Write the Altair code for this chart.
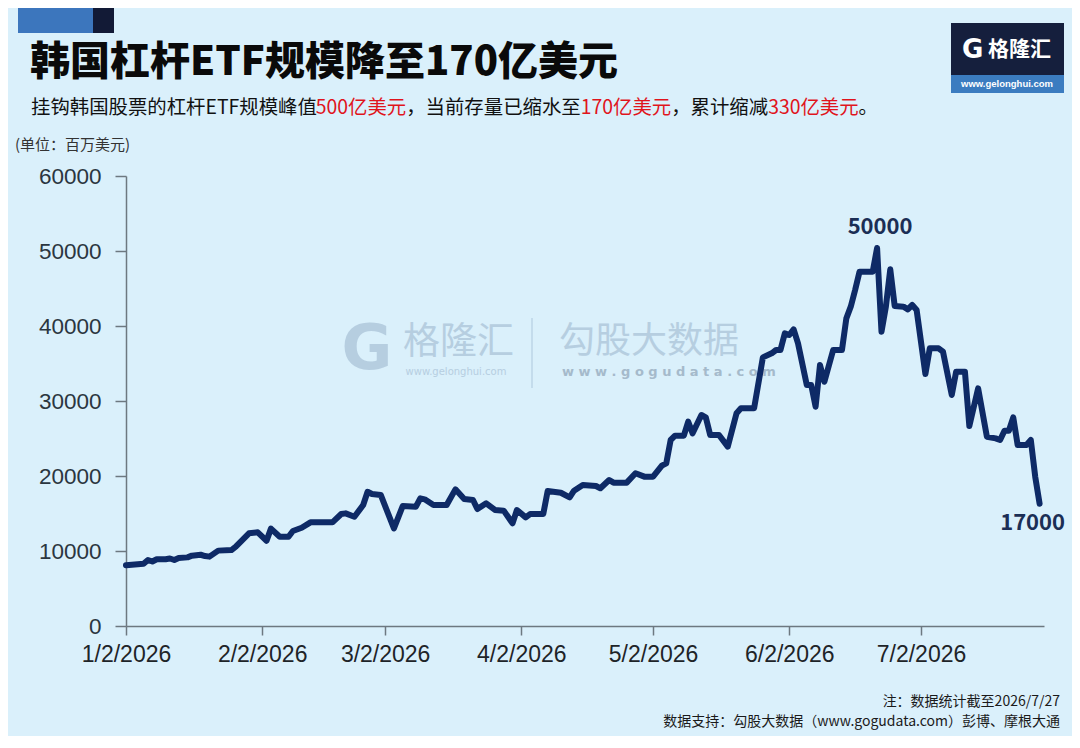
import altair as alt
import pandas as pd

# ---------------- data ----------------
dates = [
    "2026-01-02", "2026-01-06", "2026-01-07", "2026-01-08", "2026-01-09", "2026-01-11",
    "2026-01-12", "2026-01-13", "2026-01-14", "2026-01-16", "2026-01-17", "2026-01-19",
    "2026-01-20", "2026-01-21", "2026-01-23", "2026-01-26", "2026-01-27", "2026-01-30",
    "2026-02-01", "2026-02-03", "2026-02-04", "2026-02-06", "2026-02-08", "2026-02-09",
    "2026-02-11", "2026-02-13", "2026-02-18", "2026-02-20", "2026-02-21", "2026-02-23",
    "2026-02-25", "2026-02-26", "2026-02-27", "2026-03-01", "2026-03-04", "2026-03-06",
    "2026-03-09", "2026-03-10", "2026-03-11", "2026-03-13", "2026-03-16", "2026-03-18",
    "2026-03-20", "2026-03-22", "2026-03-23", "2026-03-25", "2026-03-27", "2026-03-29",
    "2026-03-31", "2026-04-01", "2026-04-03", "2026-04-04", "2026-04-07", "2026-04-08",
    "2026-04-11", "2026-04-13", "2026-04-14", "2026-04-16", "2026-04-19", "2026-04-20",
    "2026-04-22", "2026-04-23", "2026-04-26", "2026-04-28", "2026-04-30", "2026-05-02",
    "2026-05-04", "2026-05-05", "2026-05-06", "2026-05-07", "2026-05-09", "2026-05-10",
    "2026-05-11", "2026-05-13", "2026-05-14", "2026-05-15", "2026-05-17", "2026-05-19",
    "2026-05-21", "2026-05-22", "2026-05-25", "2026-05-27", "2026-05-29", "2026-05-30",
    "2026-05-31", "2026-06-01", "2026-06-02", "2026-06-03", "2026-06-04", "2026-06-06",
    "2026-06-07", "2026-06-08", "2026-06-09", "2026-06-10", "2026-06-12", "2026-06-14",
    "2026-06-15", "2026-06-16", "2026-06-17", "2026-06-18", "2026-06-21", "2026-06-22",
    "2026-06-23", "2026-06-24", "2026-06-25", "2026-06-26", "2026-06-28", "2026-06-29",
    "2026-06-30", "2026-07-01", "2026-07-03", "2026-07-04", "2026-07-06", "2026-07-07",
    "2026-07-09", "2026-07-10", "2026-07-12", "2026-07-13", "2026-07-15", "2026-07-17",
    "2026-07-19", "2026-07-20", "2026-07-21", "2026-07-22", "2026-07-23", "2026-07-24",
    "2026-07-26", "2026-07-27", "2026-07-28", "2026-07-29",
]
values = [
    8100, 8300, 8800, 8600, 8900, 8900,
    9000, 8800, 9070, 9150, 9380, 9500,
    9330, 9250, 10050, 10130, 10570, 12360,
    12490, 11370, 12980, 11900, 11900, 12670,
    13100, 13820, 13820, 14930, 15020, 14570,
    16130, 17900, 17600, 17470, 13020, 16000,
    15910, 17020, 16890, 16130, 16130, 18220,
    16930, 16800, 15600, 16360, 15470, 15380,
    13690, 15470, 14490, 14930, 14930, 18000,
    17770, 17150, 18040, 18800, 18670, 18360,
    19470, 19110, 19110, 20360, 19910, 19910,
    21380, 21690, 24800, 25380, 25380, 27240,
    25690, 28130, 27820, 25470, 25470, 23910,
    28360, 29020, 29020, 35820, 36360, 36800,
    36800, 39020, 38800, 39560, 37690, 32130,
    32130, 29240, 34800, 32570, 36800, 36800,
    41020, 42580, 44800, 47240, 47240, 50400,
    39240, 42580, 47560, 42670, 42580, 42220,
    42800, 42130, 33600, 37020, 37020, 36580,
    30800, 33910, 33910, 26670, 31690, 25240,
    25020, 24800, 26040, 26040, 27820, 24130,
    24130, 24800, 19910, 16300,
]

annot_dates = ["2026-06-22", "2026-07-29"]
annot_values = [50400, 16300]
annot_texts = ["50000", "17000"]

x_tick_months = [1, 2, 3, 4, 5, 6, 7]
y_ticks = [0, 10000, 20000, 30000, 40000, 50000, 60000]

title_text = "韩国杠杆ETF规模降至170亿美元"
subtitle_parts = ["挂钩韩国股票的杠杆ETF规模峰值", "500亿美元", "，当前存量已缩水至",
                  "170亿美元", "，累计缩减", "330亿美元", "。"]
subtitle_red = [False, True, False, True, False, True, False]
unit_text = "(单位：百万美元)"
note_text = "注：数据统计截至2026/7/27"
source_text = "数据支持：勾股大数据（www.gogudata.com）彭博、摩根大通"

# ---------------- style ----------------
BG = "#daf0fb"
NAVY = "#0e2a66"
CJK = "Noto Sans CJK SC"
LAT = "Liberation Sans"

df = pd.DataFrame({"date": pd.to_datetime(dates), "value": values})
adf = pd.DataFrame({"date": pd.to_datetime(annot_dates), "value": annot_values, "label": annot_texts})

x_scale = alt.Scale(domain=[alt.DateTime(year=2026, month=1, date=2),
                            alt.DateTime(year=2026, month=7, date=30)])
y_scale = alt.Scale(domain=[0, 60000], nice=False)

x_enc = alt.X("date:T", scale=x_scale, title=None,
              axis=alt.Axis(values=[alt.DateTime(year=2026, month=m, date=2) for m in x_tick_months],
                            format="%-m/%-d/%Y", grid=False, tickSize=9, labelPadding=8,
                            labelFontSize=23, labelFont=LAT, labelColor="#1e2428",
                            domainColor="#6d7880", tickColor="#6d7880", domainWidth=1.5,
                            tickWidth=1.5, labelFlush=False, labelOverlap=False))
y_enc = alt.Y("value:Q", scale=y_scale, title=None,
              axis=alt.Axis(values=y_ticks, format="d", grid=False, tickSize=11, labelPadding=14,
                            labelFontSize=22.5, labelFont=LAT, labelColor="#2b3640",
                            domainColor="#6d7880", tickColor="#6d7880", domainWidth=1.5,
                            tickWidth=1.5))

line = alt.Chart(df).mark_line(color=NAVY, strokeWidth=6, strokeJoin="round",
                               strokeCap="round").encode(x=x_enc, y=y_enc)

peak_lbl = alt.Chart(adf.iloc[[0]]).mark_text(font=CJK, fontSize=22, fontWeight="bold",
                                               color="#1b2e55", dy=-21, dx=3).encode(
    x="date:T", y="value:Q", text="label:N")
end_lbl = alt.Chart(adf.iloc[[1]]).mark_text(font=CJK, fontSize=22, fontWeight="bold",
                                              color="#1b2e55", dy=19, dx=-7).encode(
    x="date:T", y="value:Q", text="label:N")

one = pd.DataFrame({"k": [0]})


def txt(text, x, y, size, color="#000000", weight="normal", align="left", font=CJK, opacity=1.0,
        baseline="middle"):
    return alt.Chart(one).mark_text(text=text, font=font, fontSize=size, fontWeight=weight,
                                    color=color, align=align, baseline=baseline,
                                    opacity=opacity).encode(x=alt.value(x), y=alt.value(y))


def box(x1, x2, y1, y2, color, opacity=1.0):
    return alt.Chart(one).mark_rect(color=color, opacity=opacity).encode(
        x=alt.value(x1), x2=alt.value(x2), y=alt.value(y1), y2=alt.value(y2))


# offsets: chart origin is page (126, 176)
deco = []
# top-left colour block
deco.append(box(-108, -33, -168, -143, "#3c76bd"))
deco.append(box(-33, -12, -168, -143, "#121a36"))
# logo top-right
deco.append(box(825, 938, -153, -101, "#151f3d"))
deco.append(box(825, 938, -101, -83, "#3b7cc0"))
deco.append(txt("G", 836, -126, 26, "#ffffff", 900, font="DejaVu Sans"))
deco.append(txt("格隆汇", 862, -126, 21, "#ffffff", "bold"))
deco.append(txt("www.gelonghui.com", 881, -92, 9.5, "#ffffff", "bold", "center", font=LAT))

# title / subtitle / unit
deco.append(txt(title_text, -96, -113, 40, "#0a0a0a", 900))


def tw(s, size):
    w = 0.0
    for ch in s:
        if ord(ch) > 0x2E80:
            w += size
        elif ch.isdigit():
            w += 0.553 * size
        else:
            w += 0.56 * size
    return w


SUB = 19.4
xpos = -95
for part, red in zip(subtitle_parts, subtitle_red):
    deco.append(txt(part, xpos, -68, SUB, "#e0141c" if red else "#111111"))
    xpos += tw(part, SUB)

deco.append(txt(unit_text, -111, -31, 15, "#333333"))

# watermark
WM = "#aac3d8"
deco.append(txt("G", 241, 174, 62, WM, 900, "center", font="DejaVu Sans", opacity=0.75))
deco.append(txt("格隆汇", 277, 167, 37, WM, "normal", opacity=0.75))
deco.append(txt("www.gelonghui.com", 330, 196, 10, WM, "normal", "center", font="DejaVu Sans", opacity=0.75))
deco.append(alt.Chart(one).mark_rule(color=WM, opacity=0.6, strokeWidth=1.5).encode(
    x=alt.value(406), y=alt.value(142), y2=alt.value(212)))
deco.append(txt("勾股大数据", 433, 166, 36, WM, "normal", opacity=0.75))
deco.append(txt("w w w . g o g u d a t a . c o m", 436, 196, 13, "#98adc0", "bold",
                font="DejaVu Sans", opacity=0.8))

# footer
deco.append(txt(note_text, 934, 526, 14, "#1a1a1a", align="right"))
deco.append(txt(source_text, 934, 546, 14, "#1a1a1a", align="right"))

chart = alt.layer(*deco, line, peak_lbl, end_lbl).properties(
    width=918, height=450,
    padding={"left": 118, "top": 168, "right": 28, "bottom": 110},
    autosize="none",
).configure(background=BG).configure_view(stroke=None)

chart.save("out.html", embed_options={"renderer": "svg", "actions": False})
